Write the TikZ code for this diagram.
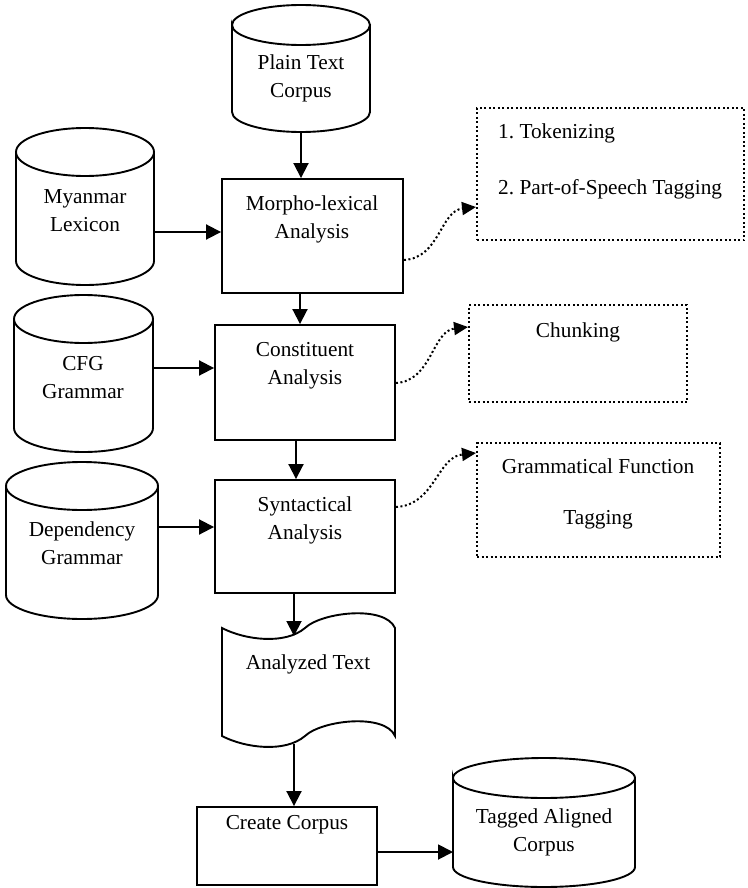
\documentclass[tikz,border=0pt]{standalone}
\usepackage{fontspec}
\setmainfont{Liberation Serif}
\usetikzlibrary{arrows.meta}
\frenchspacing
\newcommand{\cylpath}[3]{%
  \draw[solidline] ([yshift=-#3]#1.north west) arc[start angle=180, end angle=-180, x radius=#2, y radius=#3]
    -- ([yshift=#3]#1.south west) arc[start angle=180, end angle=360, x radius=#2, y radius=#3]
    -- ([yshift=-#3]#1.north east);}
\begin{document}
\begin{tikzpicture}[x=1pt,y=-1pt,
  font=\fontsize{21.3}{28}\selectfont,
  solidline/.style={line width=1.9pt},
  box/.style={draw, line width=1.9pt, inner sep=0pt},
  hole/.style={inner sep=0pt, outer sep=0pt},
  dotbox/.style={draw, line width=2pt, dash pattern=on 2pt off 2.5pt, inner sep=0pt},
  txt/.style={align=center, inner sep=0pt},
  arr/.style={line width=1.9pt, -{Triangle[length=15pt,width=15pt]}},
  dotarr/.style={line width=2pt, dash pattern=on 2pt off 2.5pt, -{Triangle[length=14pt,width=13pt]}}]
\useasboundingbox (0,0) rectangle (747,888);

% cylinders
\node[hole, minimum width=138pt, minimum height=127pt] (plain) at (301,68.5) {};
\cylpath{plain}{69pt}{20pt}
\node[hole, minimum width=138pt, minimum height=157pt] (lex) at (85,206.5) {};
\cylpath{lex}{69pt}{24pt}
\node[hole, minimum width=139pt, minimum height=157pt] (cfg) at (83.5,373.5) {};
\cylpath{cfg}{69.5pt}{24pt}
\node[hole, minimum width=152pt, minimum height=157pt] (dep) at (82,540.5) {};
\cylpath{dep}{76pt}{24pt}
\node[hole, minimum width=182pt, minimum height=129pt] (tagged) at (544,822.5) {};
\cylpath{tagged}{91pt}{20pt}

% process boxes
\node[box, minimum width=181pt, minimum height=114pt] (morpho) at (312.5,236) {};
\node[box, minimum width=180pt, minimum height=115pt] (constit) at (305,382.5) {};
\node[box, minimum width=180pt, minimum height=113pt] (synt) at (305,536.5) {};
\node[box, minimum width=180pt, minimum height=78pt] (create) at (287,846) {};

% dotted boxes
\node[dotbox, minimum width=267pt, minimum height=132pt] (tok) at (610.5,174) {};
\node[dotbox, minimum width=218pt, minimum height=97pt] (chunk) at (578,353.5) {};
\node[dotbox, minimum width=243pt, minimum height=114pt] (gft) at (598.5,500) {};

% document shape
\draw[solidline] (222,628) .. controls (245,640) and (285,645) .. (305,628)
  .. controls (322,612) and (385,605) .. (395,628) -- (395,736)
  .. controls (385,713) and (322,720) .. (305,736)
  .. controls (285,753) and (245,748) .. (222,736) -- cycle;

% texts
\node[txt] (plainT) at (301,78.5) {Plain Text\\Corpus};
\node[txt] (lexT) at (85,210.5) {Myanmar\\Lexicon};
\node[txt] (morphoT) at (312,219) {Morpho-lexical\\Analysis};
\node[txt] (constT) at (305,365.5) {Constituent\\Analysis};
\node[txt] (cfgT) at (83,377.5) {CFG\\Grammar};
\node[txt] (syntT) at (305,520.5) {Syntactical\\Analysis};
\node[txt] (depT) at (82,543.5) {Dependency\\Grammar};
\node[txt] (tagT) at (544,832.5) {Tagged Aligned\\Corpus};
\node[txt] (gftT) at (598,494) {Grammatical Function\\[23pt]Tagging};
\node[txt, align=left, anchor=west] (tokT) at (498,161.5) {1. Tokenizing\\[28pt]2. Part-of-Speech Tagging};
\node[txt, anchor=base] (chunkT) at (578,337) {Chunking};
\node[txt, anchor=base] (docT) at (308,669) {Analyzed Text};
\node[txt, anchor=base] (createT) at (287,829) {Create Corpus};

\coordinate (docin) at (294,636);
\coordinate (docout) at (294,744);

% connectors
\draw[arr] (plain.south) -- (plain.south |- morpho.north);
\draw[arr] (lex.east |- 0,232) -- (morpho.west |- 0,232);
\draw[arr] (morpho.south -| 300,0) -- (constit.north -| 300,0);
\draw[arr] (cfg.east |- 0,368) -- (constit.west |- 0,368);
\draw[arr] (constit.south -| 296,0) -- (synt.north -| 296,0);
\draw[arr] (dep.east |- 0,527) -- (synt.west |- 0,527);
\draw[arr] (synt.south -| docin) -- (docin);
\draw[arr] (docout) -- (docout |- create.north);
\draw[arr] (create.east |- 0,852) -- (tagged.west |- 0,852);

\draw[dotarr] (morpho.east |- 0,260) .. controls (440,258) and (440,211) .. (tok.west |- 0,207);
\draw[dotarr] (constit.east |- 0,383) .. controls (432,381) and (432,331) .. (chunk.west |- 0,327);
\draw[dotarr] (synt.east |- 0,507) .. controls (435,505) and (437,457) .. (gft.west |- 0,453);
\end{tikzpicture}
\end{document}
